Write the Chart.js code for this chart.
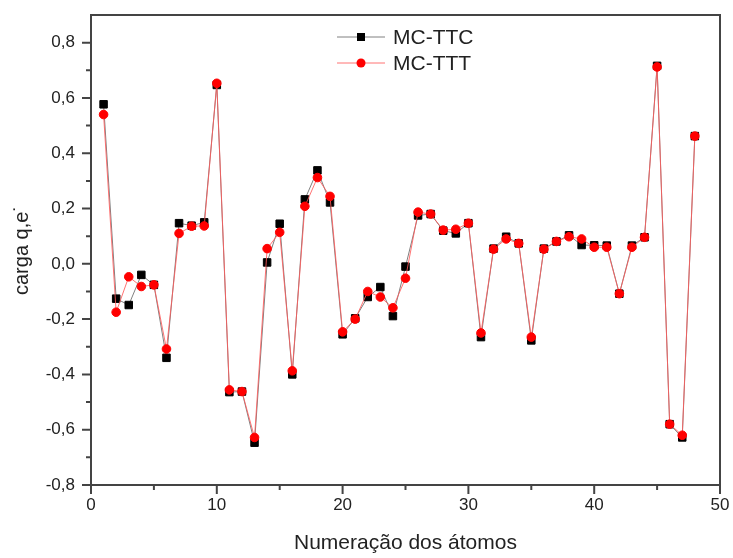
<!DOCTYPE html>
<html>
<head>
<meta charset="utf-8">
<script src="https://cdn.jsdelivr.net/npm/chart.js@4.4.0/dist/chart.umd.min.js"></script>
<style>
html,body{margin:0;padding:0;background:#fff;}
#wrap{width:733px;height:558px;}
</style>
</head>
<body>
<div id="wrap"><canvas id="carga" width="733" height="558"></canvas></div>
<script>
// atom index (x) and partial charges for both conformers
const atoms = [1,2,3,4,5,6,7,8,9,10,11,12,13,14,15,16,17,18,19,20,21,22,23,24,
               25,26,27,28,29,30,31,32,33,34,35,36,37,38,39,40,41,42,43,44,45,46,47,48]
const mcTTC = [0.577,-0.126,-0.149,-0.040,-0.076,-0.340,0.147,0.138,0.150,0.647,
               -0.464,-0.462,-0.647,0.005,0.145,-0.400,0.233,0.338,0.222,-0.255,
               -0.197,-0.120,-0.084,-0.189,-0.010,0.175,0.180,0.120,0.110,0.147,
               -0.265,0.055,0.098,0.074,-0.277,0.055,0.081,0.103,0.068,0.067,
               0.066,-0.108,0.066,0.096,0.716,-0.580,-0.628,0.462]
const mcTTT = [0.540,-0.175,-0.047,-0.082,-0.076,-0.308,0.110,0.136,0.137,0.653,
               -0.456,-0.462,-0.628,0.055,0.114,-0.387,0.208,0.312,0.244,-0.246,
               -0.200,-0.100,-0.120,-0.159,-0.052,0.187,0.180,0.122,0.125,0.147,
               -0.250,0.053,0.090,0.074,-0.265,0.053,0.081,0.098,0.090,0.060,
               0.060,-0.108,0.060,0.096,0.712,-0.580,-0.620,0.462]
const xMajor = [0,10,20,30,40,50]
const xMinor = [5,15,25,35,45]
const yMajor = [-0.8,-0.6,-0.4,-0.2,0,0.2,0.4,0.6,0.8]
const yMinor = [-0.7,-0.5,-0.3,-0.1,0.1,0.3,0.5,0.7]

const toPoints = vals => atoms.map((a, i) => ({x: a, y: vals[i]}))

// box frame + outward ticks (major/minor) like Origin
const framePlugin = {
  id: 'frame',
  beforeDatasetsDraw(chart) {
    const {ctx, chartArea: a, scales: {x, y}} = chart
    ctx.save()
    ctx.strokeStyle = '#444'
    ctx.lineWidth = 2
    ctx.strokeRect(a.left, a.top, a.right - a.left, a.bottom - a.top)
    ctx.beginPath()
    xMajor.forEach(v => { const p = x.getPixelForValue(v); ctx.moveTo(p, a.bottom); ctx.lineTo(p, a.bottom + 9) })
    xMinor.forEach(v => { const p = x.getPixelForValue(v); ctx.moveTo(p, a.bottom); ctx.lineTo(p, a.bottom + 5) })
    yMajor.forEach(v => { const p = y.getPixelForValue(v); ctx.moveTo(a.left, p); ctx.lineTo(a.left - 9, p) })
    yMinor.forEach(v => { const p = y.getPixelForValue(v); ctx.moveTo(a.left, p); ctx.lineTo(a.left - 5, p) })
    ctx.stroke()
    ctx.restore()
  }
}

// legend inside the plot: line sample with marker through it
const legendPlugin = {
  id: 'boxLegend',
  afterDraw(chart) {
    const ctx = chart.ctx
    chart.data.datasets.forEach((ds, i) => {
      const yy = 37 + i * 26
      ctx.save()
      ctx.strokeStyle = ds.borderColor
      ctx.lineWidth = 1
      ctx.beginPath()
      ctx.moveTo(337, yy); ctx.lineTo(385, yy)
      ctx.stroke()
      ctx.fillStyle = ds.pointBackgroundColor
      if (ds.pointStyle === 'rect') {
        ctx.fillRect(357, yy - 4, 8, 8)
      } else {
        ctx.beginPath(); ctx.arc(361, yy, 4.5, 0, Math.PI * 2); ctx.fill()
      }
      ctx.fillStyle = '#222'
      ctx.font = '21px "Liberation Sans", Arial, sans-serif'
      ctx.textBaseline = 'middle'
      ctx.fillText(ds.label, 393, yy + 1)
      ctx.restore()
    })
  }
}

const ctx = document.getElementById('carga').getContext('2d')
const chargeChart = new Chart(ctx, {
  type: 'line',
  data: {
    datasets: [{
      label: 'MC-TTC',
      data: toPoints(mcTTC),
      borderColor: '#808080',
      borderWidth: 1,
      pointStyle: 'rect',
      pointRadius: 5.3,
      pointBackgroundColor: '#000',
      pointBorderColor: '#000',
      pointBorderWidth: 1,
      tension: 0,
      order: 2
    }, {
      label: 'MC-TTT',
      data: toPoints(mcTTT),
      borderColor: 'rgba(255,90,90,0.85)',
      borderWidth: 1,
      pointStyle: 'circle',
      pointRadius: 4.3,
      pointBackgroundColor: '#ff0000',
      pointBorderColor: '#ff0000',
      pointBorderWidth: 1,
      tension: 0,
      order: 1
    }]
  },
  options: {
    responsive: false,
    animation: false,
    devicePixelRatio: 1,
    layout: {padding: {left: 0, top: 15, right: 13, bottom: 0}},
    plugins: {
      legend: {display: false},
      tooltip: {enabled: false}
    },
    scales: {
      x: {
        type: 'linear',
        min: 0,
        max: 50,
        grid: {display: false, drawTicks: false},
        border: {display: false},
        afterBuildTicks: s => { s.ticks = xMajor.map(v => ({value: v})) },
        afterFit: s => { s.height = 73; s.paddingLeft = 0; s.paddingRight = 0 },
        ticks: {
          color: '#222',
          padding: 10,
          font: {family: '"Liberation Sans", Arial, sans-serif', size: 17}
        },
        title: {
          display: true,
          text: 'Numeração dos átomos',
          color: '#222',
          font: {family: '"Liberation Sans", Arial, sans-serif', size: 21},
          padding: {top: 0, bottom: 2}
        }
      },
      y: {
        min: -0.8,
        max: 0.9,
        grid: {display: false, drawTicks: false},
        border: {display: false},
        afterBuildTicks: s => { s.ticks = yMajor.map(v => ({value: v})) },
        afterFit: s => { s.width = 91; s.paddingTop = 0; s.paddingBottom = 0 },
        ticks: {
          color: '#222',
          padding: 16,
          font: {family: '"Liberation Sans", Arial, sans-serif', size: 17},
          callback: v => v.toFixed(1).replace('.', ',')
        },
        title: {
          display: true,
          text: 'carga q,e˙',
          color: '#222',
          font: {family: '"Liberation Sans", Arial, sans-serif', size: 20},
          padding: {top: 10, bottom: 0}
        }
      }
    }
  },
  plugins: [framePlugin, legendPlugin]
})
</script>
</body>
</html>
